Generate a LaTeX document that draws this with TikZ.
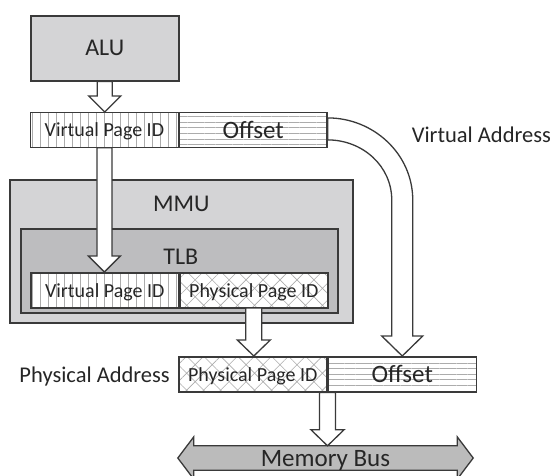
\documentclass[tikz,border=0pt]{standalone}
\usepackage{fontspec}
\setmainfont{Carlito}
\usetikzlibrary{positioning, calc, patterns.meta}

\definecolor{boxgray}{HTML}{D4D4D6}
\definecolor{tlbgray}{HTML}{BDBDBF}
\definecolor{busgray}{HTML}{BBBBBB}
\definecolor{edge}{HTML}{3A3A3A}
\definecolor{hatch}{HTML}{ACACAC}
\definecolor{ink}{HTML}{262626}

\begin{document}
\begin{tikzpicture}[
  x=1pt, y=1pt,
  font=\fontsize{24}{28}\selectfont, text=ink,
  title/.style   = {text depth=0pt, inner sep=0pt},
  side/.style    = {font=\fontsize{22.5}{26}\selectfont, text depth=0pt, inner sep=0pt},
  unit/.style    = {draw=edge, line width=1.5pt, fill=boxgray,
                    anchor=north west, inner sep=0pt},
  field/.style   = {draw=edge, line width=1.5pt, preaction={fill=white},
                    minimum width=148pt, minimum height=35pt, inner sep=0pt,
                    anchor=north west, text depth=0pt},
  vpn/.style     = {field, font=\fontsize{20}{24}\selectfont,
                    pattern={Lines[angle=90, distance=8pt, line width=0.8pt]},
                    pattern color=hatch},
  ppn/.style     = {field, font=\fontsize{20}{24}\selectfont,
                    pattern={Hatch[angle=45, distance=12pt, line width=0.6pt]},
                    pattern color=hatch},
  off/.style     = {field, font=\fontsize{25}{29}\selectfont,
                    pattern={Lines[angle=0, distance=5.6pt, line width=0.8pt]},
                    pattern color=hatch},
  blk/.style     = {draw=edge, line width=1.3pt, fill=white, line join=miter},
  busarr/.style  = {draw=edge, line width=1.3pt, fill=busgray, line join=miter},
]

\useasboundingbox (0,0) rectangle (554,-475);

% =============================================================
% Boxes
% =============================================================
\node[unit, minimum width=148pt, minimum height=65pt] (alu) at (30,-15) {};
\node[unit, minimum width=343pt, minimum height=143pt] (mmu) at (9,-179) {};
\node[unit, fill=tlbgray, minimum width=317pt, minimum height=84pt]
  (tlb) at (20,-228) {};

\node[title] at (alu) {ALU};
\node[title] at ($(mmu.north)+(0,-25)$) {MMU};
\node[title] at ($(tlb.north)+(1.5,-29)$) {TLB};

% =============================================================
% Address fields
% =============================================================
% --- virtual address ---
\node[vpn] (vavpn) at (30,-112) {Virtual Page ID};
\node[off, right=0pt of vavpn] (vaoff) {Offset};

% --- TLB entry ---
\node[vpn] (tlbvpn) at (30,-272) {Virtual Page ID};
\node[ppn, right=0pt of tlbvpn] (tlbppn) {Physical Page ID};

% --- physical address ---
\node[ppn] (pappn) at (178,-356) {Physical Page ID};
\node[off, right=0pt of pappn] (paoff) {Offset};

\node[side, anchor=west] at ($(vaoff.east)+(84,-4.5)$) {Virtual Address};
\node[side, anchor=east] at ($(pappn.west)+(-8,-0.5)$) {Physical Address};

% =============================================================
% Memory bus
% =============================================================
\node[minimum width=263pt, minimum height=24pt, inner sep=0pt]
  (bus) at (325.5,-458) {};
\draw[busarr]
  (bus.north west) -- ++(0,9) -- ($(bus.west)+(-16,0)$)
  -- ($(bus.south west)+(0,-9)$) -- (bus.south west)
  -- (bus.south east) -- ++(0,-9) -- ($(bus.east)+(16,0)$)
  -- ($(bus.north east)+(0,9)$) -- (bus.north east) -- cycle;
\node[title, font=\fontsize{25}{29}\selectfont] at (bus) {Memory Bus};

% =============================================================
% Block arrows
% =============================================================
% ALU -> virtual page id
\coordinate (t1) at (alu.south |- vavpn.north);
\draw[blk]
  ($(alu.south)+(-7.5,0)$) -- ($(t1)+(-7.5,16)$) -- ($(t1)+(-16,16)$) -- (t1)
  -- ($(t1)+(16,16)$) -- ($(t1)+(7.5,16)$) -- ($(alu.south)+(7.5,0)$) -- cycle;

% virtual page id -> TLB lookup
\coordinate (t2) at (vavpn.south |- tlbvpn.north);
\draw[blk]
  ($(vavpn.south)+(-7.5,0)$) -- ($(t2)+(-7.5,16)$) -- ($(t2)+(-16,16)$) -- (t2)
  -- ($(t2)+(16,16)$) -- ($(t2)+(7.5,16)$) -- ($(vavpn.south)+(7.5,0)$) -- cycle;

% TLB hit -> physical page id
\coordinate (t3) at (tlbppn.south |- pappn.north);
\draw[blk]
  ($(tlbppn.south)+(-8,0)$) -- ($(t3)+(-8,16)$) -- ($(t3)+(-16.5,16)$) -- (t3)
  -- ($(t3)+(16.5,16)$) -- ($(t3)+(8,16)$) -- ($(tlbppn.south)+(8,0)$) -- cycle;

% physical address -> memory bus
\coordinate (t4) at (pappn.south east |- bus.north);
\draw[blk]
  ($(pappn.south east)+(-8,0)$) -- ($(t4)+(-8,16)$) -- ($(t4)+(-16.5,16)$) -- (t4)
  -- ($(t4)+(16.5,16)$) -- ($(t4)+(8,16)$) -- ($(pappn.south east)+(8,0)$) -- cycle;

% offset passes straight through (bent arrow)
\coordinate (ctip) at (paoff.north);
\coordinate (o1) at ($(vaoff.east)+(0,12)$);
\coordinate (i1) at ($(vaoff.east)+(0,-10)$);
\coordinate (o2) at ($(ctip)+(10.5,156)$);
\coordinate (i2) at ($(ctip)+(-10.5,156)$);
\draw[blk]
  (o1) .. controls ($(o1)+(46,0)$) and ($(o2)+(0,46)$) .. (o2)
  -- ($(ctip)+(10.5,20)$) -- ($(ctip)+(20.5,20)$) -- (ctip)
  -- ($(ctip)+(-20.5,20)$) -- ($(ctip)+(-10.5,20)$)
  -- (i2) .. controls ($(i2)+(0,34)$) and ($(i1)+(35,0)$) .. (i1) -- cycle;

\end{tikzpicture}
\end{document}
